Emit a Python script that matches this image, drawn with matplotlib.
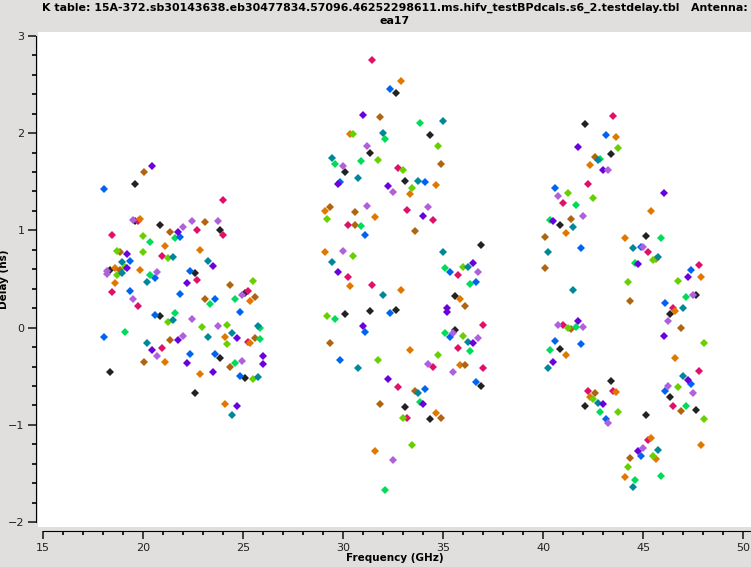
import matplotlib.pyplot as plt
from matplotlib.ticker import MultipleLocator

# delay solutions per colour group (frequency in GHz, delay in ns)
black_f = [19.62, 19.62, 20.87, 23.87, 18.37, 22.62, 25.12, 20.87, 23.87, 18.37, 25.12, 22.62,
           32.67, 34.37, 31.37, 30.12, 33.12, 36.92, 35.62, 30.12, 31.37, 32.67, 35.62, 36.92, 33.12, 34.37,
           42.12, 43.42, 40.87, 45.17, 47.67, 46.37, 40.87, 43.42, 42.12, 45.17, 46.37, 47.67]
black_d = [1.48, 1.10, 1.06, 1.00, 0.59, 0.56, 0.36, 0.12, -0.31, -0.46, -0.52, -0.67,
           2.41, 1.98, 1.80, 1.60, 1.51, 0.85, 0.33, 0.14, 0.17, 0.18, -0.02, -0.60, -0.82, -0.94,
           2.09, 1.79, 1.06, 0.94, 0.34, 0.14, -0.22, -0.55, -0.81, -0.90, -0.71, -0.85]

magenta_f = [24.02, 19.77, 18.47, 22.72, 24.02, 20.97, 22.72, 18.47, 19.77, 25.27, 25.27, 20.97,
             31.47, 32.77, 30.27, 33.22, 34.52, 30.27, 31.47, 35.77, 37.02, 35.77, 34.52, 37.02, 32.77, 33.22,
             43.52, 42.27, 41.02, 45.27, 47.82, 46.52, 41.02, 42.27, 43.52, 47.82, 46.52, 45.27]
magenta_d = [1.31, 1.10, 0.95, 1.00, 0.95, 0.74, 0.49, 0.37, 0.22, 0.38, -0.15, -0.21,
             2.75, 1.64, 1.06, 1.21, 1.11, 0.52, 0.44, 0.54, 0.03, -0.21, -0.40, -0.42, -0.61, -0.93,
             2.18, 1.48, 1.28, 0.78, 0.64, 0.20, 0.03, -0.65, -0.65, -0.45, -0.81, -1.16]

orange_f = [19.87, 21.12, 22.87, 18.62, 19.87, 18.62, 25.37, 24.12, 25.37, 21.12, 22.87, 24.12,
            32.92, 30.37, 33.37, 34.67, 29.12, 31.62, 29.12, 30.37, 32.92, 35.87, 33.37, 35.87, 34.67, 31.62,
            43.67, 42.37, 45.42, 41.17, 44.12, 45.67, 47.92, 46.62, 46.62, 41.17, 42.37, 43.67, 47.92, 45.42,
            45.67, 44.12]
orange_d = [1.12, 0.84, 0.80, 0.61, 0.59, 0.46, 0.27, -0.10, -0.16, -0.35, -0.48, -0.79,
            2.54, 1.99, 1.37, 1.47, 1.20, 1.14, 0.78, 0.43, 0.39, 0.29, -0.23, -0.38, -0.88, -1.27,
            1.96, 1.67, 1.20, 0.97, 0.92, 0.71, 0.52, 0.17, -0.31, -0.28, -0.71, -0.66, -1.21, -1.13,
            -1.35, -1.54]

brown_f = [23.12, 21.37, 18.87, 18.87, 24.37, 25.62, 23.12, 21.37, 25.62, 20.07, 24.37, 20.07,
           31.87, 34.92, 29.37, 30.62, 30.62, 33.62, 36.12, 29.37, 36.12, 33.62, 31.87, 34.92,
           42.62, 41.42, 40.12, 40.12, 44.37, 46.92, 41.42, 42.62, 46.92, 44.37]
brown_d = [1.09, 0.98, 0.78, 0.59, 0.44, 0.32, 0.29, -0.13, -0.11, -0.35, -0.40, 1.60,
           2.17, 1.68, 1.24, 1.19, 1.06, 0.99, 0.22, -0.16, -0.38, -0.65, -0.79, -0.93,
           1.75, 1.12, 0.93, 0.61, 0.27, 0.00, -0.01, -0.67, -0.86, -1.34]

lime_f = [20.02, 18.72, 20.02, 21.27, 19.12, 18.72, 25.52, 21.27, 22.97, 24.22, 24.22, 25.52,
          30.52, 34.77, 31.77, 33.02, 33.47, 29.22, 30.52, 36.02, 29.22, 36.02, 31.77, 34.77, 33.02, 33.47,
          43.77, 41.27, 42.52, 45.52, 44.27, 46.77, 48.07, 41.27, 42.52, 43.77, 46.77, 48.07, 45.52, 44.27]
lime_d = [0.94, 0.79, 0.78, 0.72, 0.62, 0.54, 0.48, 0.06, 0.01, 0.03, -0.17, -0.53,
          1.99, 1.87, 1.72, 1.62, 1.44, 1.12, 0.74, 0.62, 0.12, -0.09, -0.33, -0.28, -0.93, -1.21,
          1.85, 1.38, 1.33, 0.70, 0.47, 0.48, -0.16, 0.00, -0.73, -0.87, -0.61, -0.94, -1.32, -1.43]

green_f = [20.37, 21.62, 20.37, 23.37, 24.62, 21.62, 19.12, 25.87, 25.87, 24.62,
           33.87, 32.12, 29.62, 30.92, 30.92, 35.12, 36.37, 29.62, 35.12, 36.37, 33.87, 32.12,
           42.87, 41.67, 40.37, 45.92, 44.62, 47.17, 41.67, 40.37, 42.87, 47.17, 44.62, 45.92]
green_d = [0.88, 0.92, 0.54, 0.24, 0.29, 0.15, -0.04, 0.00, -0.12, -0.36,
           2.10, 1.94, 1.68, 1.71, 1.05, 0.61, 0.45, 0.09, -0.06, -0.24, -0.76, -1.67,
           1.73, 1.26, 1.11, 0.92, 0.66, 0.32, 0.01, -0.23, -0.87, -0.81, -1.57, -1.53]

teal_f = [21.52, 18.97, 23.27, 18.97, 20.22, 21.52, 20.22, 23.27, 24.47, 25.77, 25.77, 24.47,
          35.02, 32.02, 29.47, 30.77, 33.77, 29.47, 32.02, 35.02, 36.27, 36.27, 30.77, 33.77,
          42.77, 41.52, 40.27, 41.52, 44.52, 45.77, 47.02, 40.27, 42.77, 47.02, 45.77, 44.52]
teal_d = [0.73, 0.68, 0.69, 0.56, 0.47, 0.08, -0.16, -0.10, -0.05, 0.02, -0.51, -0.90,
          2.12, 2.00, 1.74, 1.54, 1.51, 0.68, 0.34, 0.78, 0.62, -0.15, -0.42, -0.67,
          1.72, 1.03, 0.78, 0.39, 0.82, 0.73, 0.20, -0.42, -0.78, -0.50, -1.26, -1.64]

blue_f = [18.07, 21.87, 19.37, 20.62, 22.37, 19.37, 21.87, 23.62, 24.87, 20.62, 18.07, 22.37, 23.62, 24.87,
          32.37, 29.87, 34.12, 31.12, 35.37, 36.67, 32.37, 31.12, 35.37, 29.87, 36.67, 34.12,
          43.17, 40.62, 41.92, 44.92, 47.42, 46.12, 40.62, 41.92, 43.17, 47.42, 46.12, 44.92]
blue_d = [1.43, 0.93, 0.69, 0.51, 0.58, 0.38, 0.35, 0.29, 0.16, 0.13, -0.10, -0.27, -0.27, -0.50,
          2.45, 1.50, 1.50, 0.95, 0.57, 0.47, 0.15, -0.04, -0.10, -0.33, -0.56, -0.63,
          1.98, 1.44, 0.82, 0.83, 0.59, 0.25, -0.14, -0.17, -0.94, -0.58, -0.65, -1.32]

purple_f = [21.77, 19.22, 23.52, 19.22, 22.22, 21.77, 24.72, 20.47, 22.22, 26.02, 26.02, 23.52, 24.72, 20.47,
            31.02, 29.77, 32.27, 34.02, 29.77, 36.52, 31.02, 35.22, 35.22, 36.52, 32.27, 34.02,
            41.77, 43.02, 46.07, 40.52, 44.77, 47.27, 46.07, 41.77, 40.52, 43.02, 47.27, 44.77]
purple_d = [0.98, 0.76, 0.63, 0.61, 0.46, -0.13, -0.11, -0.23, -0.36, -0.29, -0.37, -0.46, -0.81, 1.66,
            2.19, 1.48, 1.46, 1.15, 0.57, 0.66, 0.02, 0.20, 0.16, -0.16, -0.53, -0.79,
            1.86, 1.62, 1.38, 1.10, 0.65, 0.52, -0.09, 0.07, -0.35, -0.79, -0.54, -1.27]

lavender_f = [19.52, 22.47, 23.77, 22.02, 18.22, 18.22, 20.72, 19.52, 24.97, 22.47, 23.77, 22.02, 20.72, 24.97,
              31.22, 30.02, 32.52, 31.22, 34.27, 30.02, 36.77, 35.52, 36.77, 34.27, 35.52, 32.52,
              43.27, 40.77, 42.02, 45.02, 47.52, 46.27, 40.77, 42.02, 43.27, 46.27, 47.52, 45.02]
lavender_d = [1.11, 1.10, 1.10, 1.03, 0.58, 0.55, 0.57, 0.29, 0.34, 0.09, 0.02, -0.09, -0.29, -0.34,
              1.87, 1.66, 1.39, 1.25, 1.24, 0.79, 0.57, -0.05, -0.11, -0.37, -0.46, -1.36,
              1.62, 1.35, 1.15, 0.83, 0.34, 0.07, 0.03, 0.01, -0.98, -0.60, -0.67, -1.24]

groups = [
    (black_f, black_d, "#222222"),
    (magenta_f, magenta_d, "#e0106a"),
    (orange_f, orange_d, "#e07800"),
    (brown_f, brown_d, "#b06410"),
    (lime_f, lime_d, "#66d000"),
    (green_f, green_d, "#00dc5a"),
    (teal_f, teal_d, "#00889a"),
    (blue_f, blue_d, "#0064f0"),
    (purple_f, purple_d, "#6a00dc"),
    (lavender_f, lavender_d, "#b060dc"),
]

fig = plt.figure(figsize=(7.51, 5.67), dpi=100, facecolor="#e0dfdd")
ax = fig.add_axes([38 / 751, 1 - 527 / 567, 713 / 751, 495 / 567])
ax.set_facecolor("white")

for f, d, c in groups:
    ax.plot(f, d, linestyle="none", marker="D", markersize=3.6, color=c, markeredgewidth=0)

ax.set_xlim(14.75, 50.4)
ax.set_ylim(-2.05, 3.04)

for s in ["top", "right"]:
    ax.spines[s].set_visible(False)
ax.spines["left"].set_position(("outward", 1.2))
ax.spines["left"].set_bounds(-2, 3)
ax.spines["bottom"].set_position(("outward", 3))
ax.spines["bottom"].set_bounds(15, 50.4)

ax.xaxis.set_major_locator(MultipleLocator(5))
ax.xaxis.set_minor_locator(MultipleLocator(1))
ax.yaxis.set_major_locator(MultipleLocator(1))
ax.yaxis.set_minor_locator(MultipleLocator(0.2))
ax.tick_params(which="major", direction="out", length=6, width=1.2, labelsize=8, colors="#222222", pad=2.5)
ax.tick_params(which="minor", direction="out", length=3, width=1.2)
ax.set_xticks([15, 20, 25, 30, 35, 40, 45, 50])

ax.set_xlabel("Frequency (GHz)", fontsize=7.5, fontweight="bold", labelpad=0)
ax.set_ylabel("Delay (ns)", fontsize=7.5, fontweight="bold")
ax.yaxis.set_label_coords(-0.04, 0.5)
ax.set_title("K table: 15A-372.sb30143638.eb30477834.57096.46252298611.ms.hifv_testBPdcals.s6_2.testdelay.tbl   Antenna:\nea17",
             fontsize=7.9, fontweight="bold", pad=6, linespacing=1.3)

fig.savefig("out.png", dpi=100, facecolor=fig.get_facecolor())
